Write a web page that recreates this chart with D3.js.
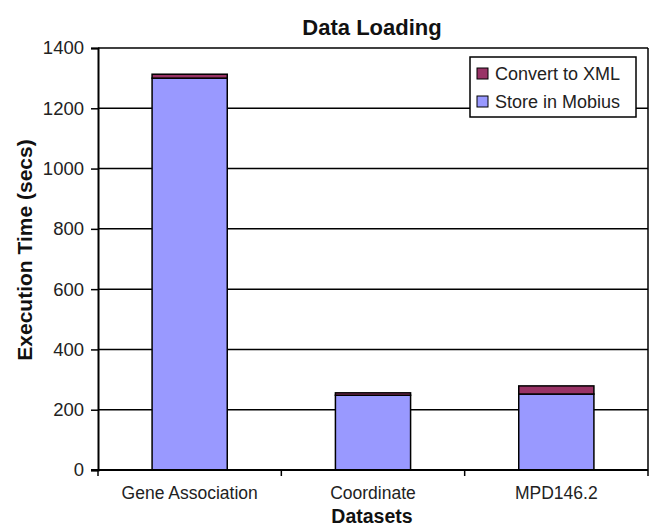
<!DOCTYPE html>
<html><head><meta charset="utf-8">
<script src="https://cdn.jsdelivr.net/npm/d3@7"></script>
<style>body{margin:0;background:#fff}text{font-family:"Liberation Sans",Arial,sans-serif}</style>
</head><body><svg id="c" width="655" height="530"></svg>
<script>
const categories = ["Gene Association", "Coordinate", "MPD146.2"];
const storeInMobius = [1300, 248, 252];
const convertToXML = [13, 8, 27];
const yTicks = [0, 200, 400, 600, 800, 1000, 1200, 1400];
const seriesNames = ["Convert to XML", "Store in Mobius"];
const colors = {"Store in Mobius": "#9999ff", "Convert to XML": "#993366"};

const svg = d3.select("#c");
const m = {l: 98, r: 648, t: 48, b: 470};
const x = d3.scaleBand().domain(categories).range([m.l, m.r]).paddingInner(0.59).paddingOuter(0.295);
const xb = d3.scaleBand().domain(categories).range([m.l, m.r]);
const y = d3.scaleLinear().domain([0, 1400]).range([m.b, m.t]);

svg.append("g").selectAll("line").data(yTicks.filter(d => d > 0)).join("line")
  .attr("x1", m.l).attr("x2", m.r).attr("y1", d => y(d)).attr("y2", d => y(d))
  .attr("stroke", "#000").attr("stroke-width", 1.5);
svg.append("line").attr("x1", m.r).attr("x2", m.r).attr("y1", m.t).attr("y2", m.b)
  .attr("stroke", "#000").attr("stroke-width", 1.5);

const data = categories.map((c, i) => ({c, s: storeInMobius[i], v: convertToXML[i]}));
const g = svg.append("g");
g.selectAll("rect.s").data(data).join("rect").attr("class", "s")
  .attr("x", d => x(d.c)).attr("width", x.bandwidth())
  .attr("y", d => y(d.s)).attr("height", d => y(0) - y(d.s))
  .attr("fill", colors["Store in Mobius"]).attr("stroke", "#000").attr("stroke-width", 1.5);
g.selectAll("rect.v").data(data).join("rect").attr("class", "v")
  .attr("x", d => x(d.c)).attr("width", x.bandwidth())
  .attr("y", d => y(d.s + d.v)).attr("height", d => y(d.s) - y(d.s + d.v))
  .attr("fill", colors["Convert to XML"]).attr("stroke", "#000").attr("stroke-width", 1.5);

const ya = svg.append("g").attr("transform", `translate(${m.l},0)`)
  .call(d3.axisLeft(y).tickValues(yTicks).tickSize(7).tickPadding(7).tickFormat(d3.format("d")));
ya.select(".domain").attr("stroke-width", 2);
ya.selectAll(".tick line").attr("stroke-width", 1.5);
ya.selectAll("text").attr("font-size", 18.5).attr("fill", "#222");

const xa = svg.append("g").attr("transform", `translate(0,${m.b})`);
xa.append("line").attr("x1", m.l - 7).attr("x2", m.r).attr("y1", 0).attr("y2", 0)
  .attr("stroke", "#000").attr("stroke-width", 2);
const bounds = categories.map(c => xb(c)).concat([m.r]);
xa.selectAll("line.t").data(bounds).join("line").attr("class", "t")
  .attr("x1", d => d).attr("x2", d => d).attr("y1", 0).attr("y2", 6)
  .attr("stroke", "#000").attr("stroke-width", 1.5);
xa.selectAll("text").data(categories).join("text")
  .attr("x", d => xb(d) + xb.bandwidth() / 2).attr("y", 29)
  .attr("text-anchor", "middle").attr("font-size", 17.5).attr("fill", "#222").text(d => d);

svg.append("text").attr("x", 372).attr("y", 35).attr("text-anchor", "middle")
  .attr("font-size", 22).attr("font-weight", "bold").attr("fill", "#111").text("Data Loading");
svg.append("text").attr("x", 372).attr("y", 523).attr("text-anchor", "middle")
  .attr("font-size", 19.5).attr("font-weight", "bold").attr("fill", "#111").text("Datasets");
svg.append("text").attr("transform", `translate(32,250) rotate(-90)`)
  .attr("text-anchor", "middle").attr("font-size", 21).attr("font-weight", "bold").attr("fill", "#111")
  .text("Execution Time (secs)");

const lg = svg.append("g").attr("transform", "translate(470,57)");
lg.append("rect").attr("width", 166).attr("height", 60).attr("fill", "#fff")
  .attr("stroke", "#000").attr("stroke-width", 1.5);
seriesNames.forEach((n, i) => {
  lg.append("rect").attr("x", 7).attr("y", 11 + i * 28).attr("width", 11).attr("height", 11)
    .attr("fill", colors[n]).attr("stroke", "#000").attr("stroke-width", 1);
  lg.append("text").attr("x", 25).attr("y", 23 + i * 28).attr("font-size", 18)
    .attr("fill", "#222").text(n);
});
</script></body></html>
